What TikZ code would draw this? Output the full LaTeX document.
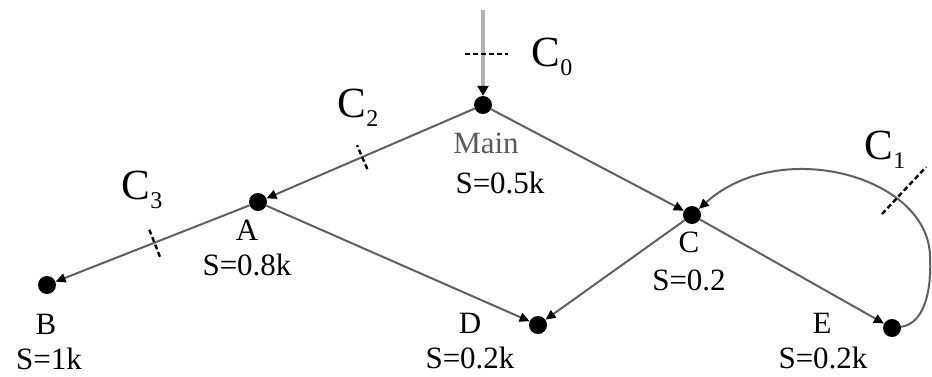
\documentclass[tikz,border=0pt]{standalone}
\usepackage{fontspec}
\setmainfont{Liberation Serif}
\usetikzlibrary{arrows.meta,calc}
\begin{document}
\begin{tikzpicture}[x=1pt,y=1pt,
  dot/.style={circle,fill=black,inner sep=0pt,minimum size=18pt},
  conn/.style={draw=gray!75!black,line width=2pt,-{Triangle[length=10pt,width=9pt,color=black]}},
  lbl/.style={font=\fontsize{31}{31}\selectfont,inner sep=0pt},
  cutmark/.style={draw=black,line width=2.4pt,dash pattern=on 5pt off 3pt},
  clbl/.style={inner sep=0pt}]
\useasboundingbox (0,0) rectangle (932,376);
\node[dot] (Main) at (483,271) {};
\node[dot] (A) at (258,174) {};
\node[dot] (B) at (47,91) {};
\node[dot] (C) at (692,161) {};
\node[dot] (D) at (538,51) {};
\node[dot] (E) at (892,48) {};
\coordinate (top) at (483,366);
\coordinate (rt) at (930,120);
% connectors
\draw[draw=gray!60,line width=3.5pt,-{Triangle[length=10pt,width=11pt,color=black]}] (top) -- (Main);
\draw[conn] (Main) -- (A);
\draw[conn] (A) -- (B);
\draw[conn] (Main) -- (C);
\draw[conn] (A) -- (D);
\draw[conn] (C) -- (D);
\draw[conn] (C) -- (E);
\draw[conn] (E) .. controls (922,52) and (932,80) .. (rt) .. controls (928,200) and (780,240) .. (C);
% cut marks
\path (Main) -- (A) coordinate[pos=0.54] (t2);
\path (A) -- (B) coordinate[pos=0.49] (t3);
\draw[cutmark] ($(t2)!13pt!90:(A)$) -- ($(t2)!13pt!-90:(A)$);
\draw[cutmark] ($(t3)!15pt!90:(B)$) -- ($(t3)!15pt!-90:(B)$);
\coordinate (c0a) at (465,322);
\coordinate (c0b) at (508,322);
\draw[cutmark] (c0a) -- (c0b);
\coordinate (c1a) at (882,162);
\coordinate (c1b) at (926,209);
\draw[cutmark] (c1a) -- (c1b);
% cut labels
\node[clbl] (lc0) at (552,319) {{\fontsize{43}{43}\selectfont C}\raisebox{-9pt}{\fontsize{24}{24}\selectfont 0}};
\node[clbl] (lc1) at (885,226) {{\fontsize{43}{43}\selectfont C}\raisebox{-9pt}{\fontsize{24}{24}\selectfont 1}};
\node[clbl] (lc2) at (358,268) {{\fontsize{43}{43}\selectfont C}\raisebox{-9pt}{\fontsize{24}{24}\selectfont 2}};
\node[clbl] (lc3) at (142,186) {{\fontsize{43}{43}\selectfont C}\raisebox{-9pt}{\fontsize{24}{24}\selectfont 3}};
% node labels
\node[lbl,text=gray!70!black] (lmain) at (486,233) {Main};
\node[lbl] (smain) at (500,193) {S=0.5k};
\node[lbl] (la) at (247,146) {A};
\node[lbl] (sa) at (247,111) {S=0.8k};
\node[lbl] (lb) at (46,52) {B};
\node[lbl] (sb) at (49,17) {S=1k};
\node[lbl] (lcc) at (689,134) {C};
\node[lbl] (sc) at (689,96) {S=0.2};
\node[lbl] (ld) at (470,53) {D};
\node[lbl] (sd) at (470,18) {S=0.2k};
\node[lbl] (le) at (822,53) {E};
\node[lbl] (se) at (823,18) {S=0.2k};
\end{tikzpicture}
\end{document}
